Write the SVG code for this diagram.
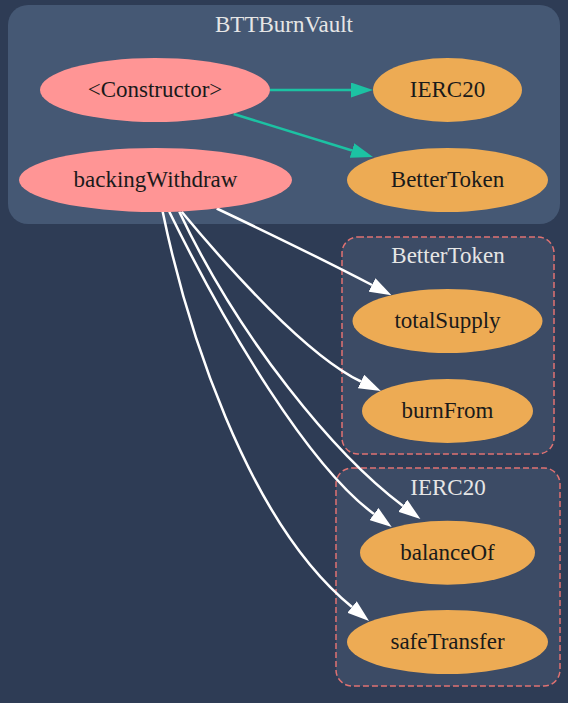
<svg xmlns="http://www.w3.org/2000/svg" width="568" height="703" viewBox="0 0 568 703">
<defs>
<style>
.title{font-family:"Liberation Serif","Times New Roman",serif;font-size:23px;fill:#e6e6e6;text-anchor:middle}
.lbl{font-family:"Liberation Serif","Times New Roman",serif;font-size:23px;fill:#1a1a1a;text-anchor:middle}
.fn{fill:#ff9595}
.ct{fill:#edab54}
.sub{fill:#3c4b65;stroke:#e07272;stroke-width:1.5;stroke-dasharray:6,3}
.e{fill:none;stroke:#ffffff;stroke-width:2.5}
.t{fill:none;stroke:#1cc2a3;stroke-width:2.5}
</style>
<marker id="aw" markerUnits="userSpaceOnUse" markerWidth="22" markerHeight="15" viewBox="0 0 22 15" refX="0" refY="7.5" orient="auto"><path d="M0,0 L22,7.5 L0,15 z" fill="#ffffff"/></marker>
<marker id="at" markerUnits="userSpaceOnUse" markerWidth="22" markerHeight="15" viewBox="0 0 22 15" refX="0" refY="7.5" orient="auto"><path d="M0,0 L22,7.5 L0,15 z" fill="#1cc2a3"/></marker>
</defs>
<rect x="0" y="0" width="568" height="703" fill="#2e3c55"/>
<g id="cluster_BTTBurnVault">
<rect x="8" y="5" width="552" height="219" rx="20" fill="#455874"/>
<text class="title" x="284" y="32">BTTBurnVault</text>
</g>
<g id="cluster_BetterToken">
<rect class="sub" x="342" y="237" width="212" height="217" rx="16"/>
<text class="title" x="448" y="263">BetterToken</text>
</g>
<g id="cluster_IERC20">
<rect class="sub" x="336" y="468" width="224" height="218" rx="16"/>
<text class="title" x="448" y="495">IERC20</text>
</g>
<g id="edges">
<path class="t" d="M270,90 L351,90" marker-end="url(#at)"/>
<path class="t" d="M233.7,114 L352,150.5" marker-end="url(#at)"/>
<path class="e" d="M216.7,208.5 C260,229 320,258 372,285" marker-end="url(#aw)"/>
<path class="e" d="M181.7,211.7 C230,270 307,355.7 361,381.5" marker-end="url(#aw)"/>
<path class="e" d="M169.3,211.7 C228,331.7 309.6,466.6 374,514" marker-end="url(#aw)"/>
<path class="e" d="M179.3,211.7 C240,340 335,455 402.8,505.8" marker-end="url(#aw)"/>
<path class="e" d="M162.7,211.7 C185,320 245,520 352,607" marker-end="url(#aw)"/>
</g>
<g id="node_constructor">
<ellipse class="fn" cx="155" cy="90" rx="115" ry="32"/>
<text class="lbl" x="155" y="97">&lt;Constructor&gt;</text>
</g>
<g id="node_backingWithdraw">
<ellipse class="fn" cx="155.5" cy="180" rx="136.5" ry="32"/>
<text class="lbl" x="155.5" y="187">backingWithdraw</text>
</g>
<g id="node_IERC20">
<ellipse class="ct" cx="447.5" cy="90" rx="74.5" ry="32"/>
<text class="lbl" x="447.5" y="97">IERC20</text>
</g>
<g id="node_BetterToken">
<ellipse class="ct" cx="447.5" cy="180" rx="100.5" ry="32"/>
<text class="lbl" x="447.5" y="187">BetterToken</text>
</g>
<g id="node_totalSupply">
<ellipse class="ct" cx="447.5" cy="321" rx="95" ry="32"/>
<text class="lbl" x="447.5" y="328">totalSupply</text>
</g>
<g id="node_burnFrom">
<ellipse class="ct" cx="447.5" cy="411" rx="85.5" ry="32"/>
<text class="lbl" x="447.5" y="418">burnFrom</text>
</g>
<g id="node_balanceOf">
<ellipse class="ct" cx="447.5" cy="552.7" rx="87.5" ry="32"/>
<text class="lbl" x="447.5" y="560">balanceOf</text>
</g>
<g id="node_safeTransfer">
<ellipse class="ct" cx="447.5" cy="642" rx="100.5" ry="32"/>
<text class="lbl" x="447.5" y="649">safeTransfer</text>
</g>
</svg>
